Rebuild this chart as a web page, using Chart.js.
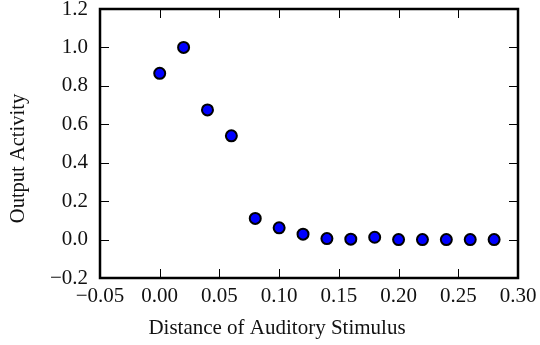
<!DOCTYPE html>
<html>
<head>
<meta charset="utf-8">
<script src="https://cdn.jsdelivr.net/npm/chart.js@4"></script>
<style>
  html, body { margin: 0; padding: 0; background: #fff; }
  #wrap { width: 540px; height: 345px; }
</style>
</head>
<body>
<div id="wrap"><canvas id="chart"></canvas></div>
<script>
// data
const distances = [0.00, 0.02, 0.04, 0.06, 0.08, 0.10, 0.12, 0.14, 0.16, 0.18, 0.20, 0.22, 0.24, 0.26, 0.28];
const activity = [0.865, 1.0, 0.675, 0.54, 0.11, 0.061, 0.028, 0.005, 0.002, 0.012, 0.0, 0.0, 0.0, 0.0, 0.0];
const xTicks = [-0.05, 0.00, 0.05, 0.10, 0.15, 0.20, 0.25, 0.30];
const yTicks = [-0.2, 0.0, 0.2, 0.4, 0.6, 0.8, 1.0, 1.2];
const xTitle = 'Distance of Auditory Stimulus';
const yTitle = 'Output Activity';

const FONT = '"Liberation Serif", "Times New Roman", serif';
const minus = s => s.replace('-', '\u2212');

// frame, inward ticks on all four sides, axis titles
const framePlugin = {
  id: 'frame',
  afterDraw(chart) {
    const { ctx, chartArea: a, scales } = chart;
    ctx.save();
    ctx.strokeStyle = '#000';
    ctx.lineWidth = 1;
    const len = 9;
    xTicks.forEach(v => {
      const px = Math.round(scales.x.getPixelForValue(v)) + 0.5;
      ctx.beginPath();
      ctx.moveTo(px, a.bottom); ctx.lineTo(px, a.bottom - len);
      ctx.moveTo(px, a.top); ctx.lineTo(px, a.top + len);
      ctx.stroke();
    });
    yTicks.forEach(v => {
      const py = Math.round(scales.y.getPixelForValue(v)) + 0.5;
      ctx.beginPath();
      ctx.moveTo(a.left, py); ctx.lineTo(a.left + len, py);
      ctx.moveTo(a.right, py); ctx.lineTo(a.right - len, py);
      ctx.stroke();
    });
    ctx.lineWidth = 2.5;
    ctx.strokeRect(a.left, a.top, a.right - a.left, a.bottom - a.top);

    // titles sit a little off the axis centres, as in the original
    ctx.fillStyle = '#111';
    ctx.textAlign = 'center';
    ctx.textBaseline = 'alphabetic';
    ctx.font = '21px ' + FONT;
    ctx.fillText(xTitle, (a.left + a.right) / 2 - 32, 334);
    ctx.font = '20.5px ' + FONT;
    ctx.translate(23.5, (a.top + a.bottom) / 2 + 15);
    ctx.rotate(-Math.PI / 2);
    ctx.fillText(yTitle, 0, 0);
    ctx.restore();
  }
};

new Chart(document.getElementById('chart'), {
  type: 'scatter',
  data: {
    datasets: [{
      data: distances.map((d, i) => ({ x: d, y: activity[i] })),
      backgroundColor: '#0000ff',
      borderColor: '#000',
      borderWidth: 2,
      pointRadius: 5.5,
      pointHoverRadius: 5.5
    }]
  },
  options: {
    responsive: true,
    maintainAspectRatio: false,
    animation: false,
    layout: { padding: { top: 9, right: 22, left: 0, bottom: 0 } },
    plugins: { legend: { display: false }, tooltip: { enabled: false } },
    scales: {
      x: {
        type: 'linear',
        min: -0.05, max: 0.30,
        afterBuildTicks: s => { s.ticks = xTicks.map(v => ({ value: v })); },
        afterFit: s => { s.height = 67; s.paddingLeft = 0; s.paddingRight = 0; },
        grid: { display: false, drawTicks: false },
        border: { display: false },
        ticks: {
          padding: 6,
          color: '#111',
          font: { family: FONT, size: 21 },
          callback: v => minus(v.toFixed(2))
        }
      },
      y: {
        type: 'linear',
        min: -0.2, max: 1.2,
        afterBuildTicks: s => { s.ticks = yTicks.map(v => ({ value: v })); },
        afterFit: s => { s.width = 100; s.paddingTop = 0; s.paddingBottom = 0; },
        grid: { display: false, drawTicks: false },
        border: { display: false },
        ticks: {
          padding: 12,
          color: '#111',
          font: { family: FONT, size: 21 },
          callback: v => minus(v.toFixed(1))
        }
      }
    }
  },
  plugins: [framePlugin]
});
</script>
</body>
</html>
